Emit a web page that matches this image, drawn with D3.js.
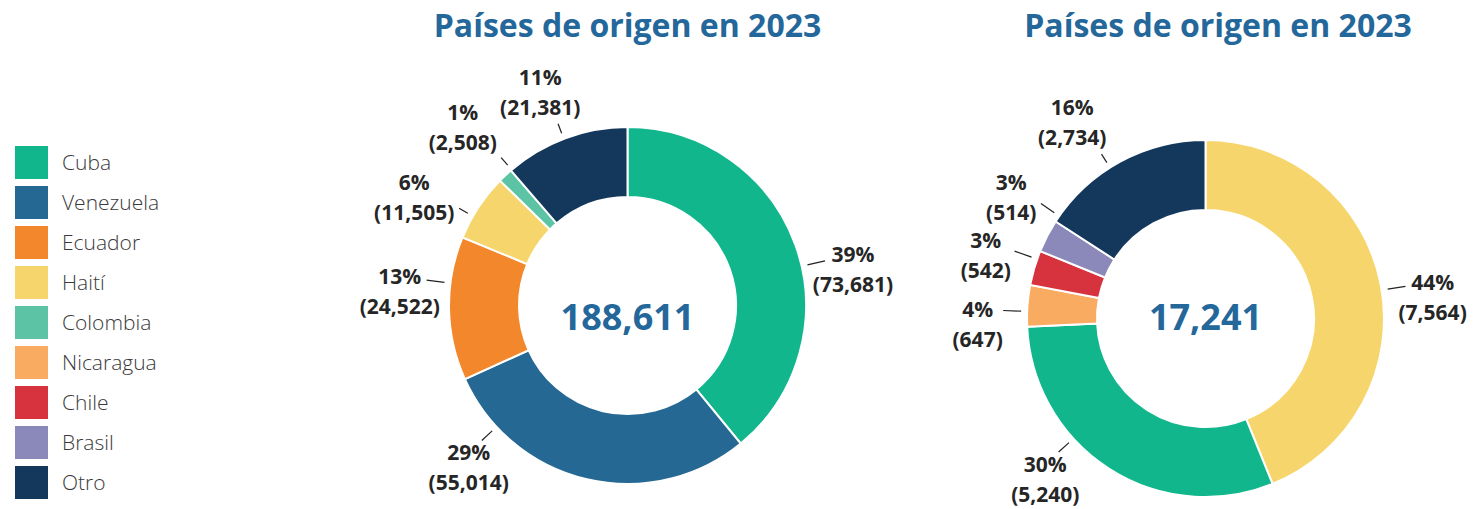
<!DOCTYPE html>
<html>
<head>
<meta charset="utf-8">
<script src="https://cdn.jsdelivr.net/npm/d3@7"></script>
<style>
    body { margin: 0; background: #fff; }
    svg { display: block; font-family: "Open Sans", sans-serif; }
</style>
</head>
<body>
<div id="chart"></div>
<script>
// Dữ liệu
const legendCategories = ["Cuba", "Venezuela", "Ecuador", "Haití", "Colombia", "Nicaragua", "Chile", "Brasil", "Otro"];
const legendColors = ["#12b68d", "#256894", "#f3872b", "#f6d66c", "#5cc3a4", "#f9ab62", "#d7333f", "#8b88ba", "#14375c"];

const leftCategories = ["Cuba", "Venezuela", "Ecuador", "Haití", "Colombia", "Otro"];
const leftValues = [73681, 55014, 24522, 11505, 2508, 21381];

const rightCategories = ["Haití", "Cuba", "Nicaragua", "Chile", "Brasil", "Otro"];
const rightValues = [7564, 5240, 647, 542, 514, 2734];

const titles = ["Países de origen en 2023", "Países de origen en 2023"];

// Kích thước
const width = 1484, height = 509;
const outerR = 178.5, innerR = 108.5;
const labelR = 228;
const fs = 21; // cỡ chữ nhãn

const svg = d3.select("#chart").append("svg")
    .attr("width", width)
    .attr("height", height);

const color = d3.scaleOrdinal().domain(legendCategories).range(legendColors);
const fmt = d3.format(",");

// Legend
const legend = svg.append("g").attr("transform", "translate(15,146)");
const ly = d3.scaleBand().domain(legendCategories).range([0, 40 * legendCategories.length]);

legend.selectAll("rect")
    .data(legendCategories)
    .enter()
    .append("rect")
    .attr("x", 0)
    .attr("y", d => ly(d))
    .attr("width", 33)
    .attr("height", 33)
    .attr("fill", d => color(d));

legend.selectAll("text")
    .data(legendCategories)
    .enter()
    .append("text")
    .attr("x", 47)
    .attr("y", d => ly(d) + 16.5)
    .attr("dy", "0.36em")
    .text(d => d)
    .style("font-size", "21px")
    .style("font-weight", "300")
    .style("fill", "#3a3a3a");

// Giao điểm tia (từ tâm, hướng u) với hộp chữ nhật
function rayHit(ux, uy, box) {
    let tmin = -Infinity, tmax = Infinity;
    const axes = [[ux, box.x0, box.x1], [uy, box.y0, box.y1]];
    for (const [u, lo, hi] of axes) {
        if (Math.abs(u) < 1e-9) {
            if (lo > 0 || hi < 0) return Infinity;
        } else {
            const a = lo / u, b = hi / u;
            tmin = Math.max(tmin, Math.min(a, b));
            tmax = Math.min(tmax, Math.max(a, b));
        }
    }
    return (tmin <= tmax && tmax > 0) ? tmin : Infinity;
}

// Vẽ donut
function drawDonut(cats, vals, title, cx, cy, titleX, nudges) {
    const total = d3.sum(vals);
    const data = cats.map((c, i) => ({ cat: c, value: vals[i] }));

    const pie = d3.pie().sort(null).value(d => d.value);
    const arc = d3.arc().innerRadius(innerR).outerRadius(outerR);
    const arcs = pie(data);

    svg.append("text")
        .attr("x", titleX)
        .attr("y", 37)
        .attr("text-anchor", "middle")
        .text(title)
        .style("font-size", "32px")
        .style("font-weight", "700")
        .style("fill", "#24679a");

    const g = svg.append("g").attr("transform", `translate(${cx},${cy})`);

    g.selectAll("path")
        .data(arcs)
        .enter()
        .append("path")
        .attr("d", arc)
        .attr("fill", d => color(d.data.cat))
        .attr("stroke", "#fff")
        .attr("stroke-width", 2);

    const r0 = outerR + 6;

    arcs.forEach((d, i) => {
        const a = (d.startAngle + d.endAngle) / 2 + nudges[i] * Math.PI / 180;
        let lx = labelR * Math.sin(a), lyy = -labelR * Math.cos(a);

        const lab = g.append("g");
        const t1 = lab.append("text")
            .attr("text-anchor", "middle")
            .attr("y", -9)
            .text(Math.round(d.data.value / total * 100) + "%");
        const t2 = lab.append("text")
            .attr("text-anchor", "middle")
            .attr("y", 21)
            .text(`(${fmt(d.data.value)})`);
        lab.selectAll("text")
            .style("font-size", fs + "px")
            .style("font-weight", "700")
            .style("fill", "#262626");

        const w1 = t1.node().getBBox().width, w2 = t2.node().getBBox().width;
        const pad = 3;
        const boxes = (ox, oy) => [
            { x0: ox - w1 / 2 - pad, x1: ox + w1 / 2 + pad, y0: oy - 9 - 0.73 * fs - pad, y1: oy - 9 + pad },
            { x0: ox - w2 / 2 - pad, x1: ox + w2 / 2 + pad, y0: oy + 21 - 0.78 * fs - pad, y1: oy + 21 + 0.2 * fs + pad }
        ];

        // hướng đường dẫn: về phía dòng đầu
        const c1x = lx, c1y = lyy - 9 - 0.36 * fs;
        const len = Math.hypot(c1x, c1y);
        const ux = c1x / len, uy = c1y / len;

        let tHit = d3.min(boxes(lx, lyy), b => rayHit(ux, uy, b));
        const need = r0 + 10 + 2;
        if (tHit < need) {
            const s = need - tHit;
            lx += ux * s;
            lyy += uy * s;
            tHit += s;
        }
        lab.attr("transform", `translate(${lx},${lyy})`);

        const r1 = Math.min(r0 + 18, tHit - 2);
        g.append("line")
            .attr("x1", ux * r0)
            .attr("y1", uy * r0)
            .attr("x2", ux * r1)
            .attr("y2", uy * r1)
            .attr("stroke", "#222")
            .attr("stroke-width", 1.2);
    });

    svg.append("text")
        .attr("x", cx)
        .attr("y", 330)
        .attr("text-anchor", "middle")
        .text(fmt(total))
        .style("font-size", "36px")
        .style("font-weight", "700")
        .style("fill", "#24679a");
}

drawDonut(leftCategories, leftValues, titles[0], 627.5, 305.5, 627.5, [11, 31, 4, -7, 0, -2]);
drawDonut(rightCategories, rightValues, titles[1], 1205.5, 318.5, 1218, [6, 12, -6, -1, 4, -6]);
</script>
</body>
</html>
